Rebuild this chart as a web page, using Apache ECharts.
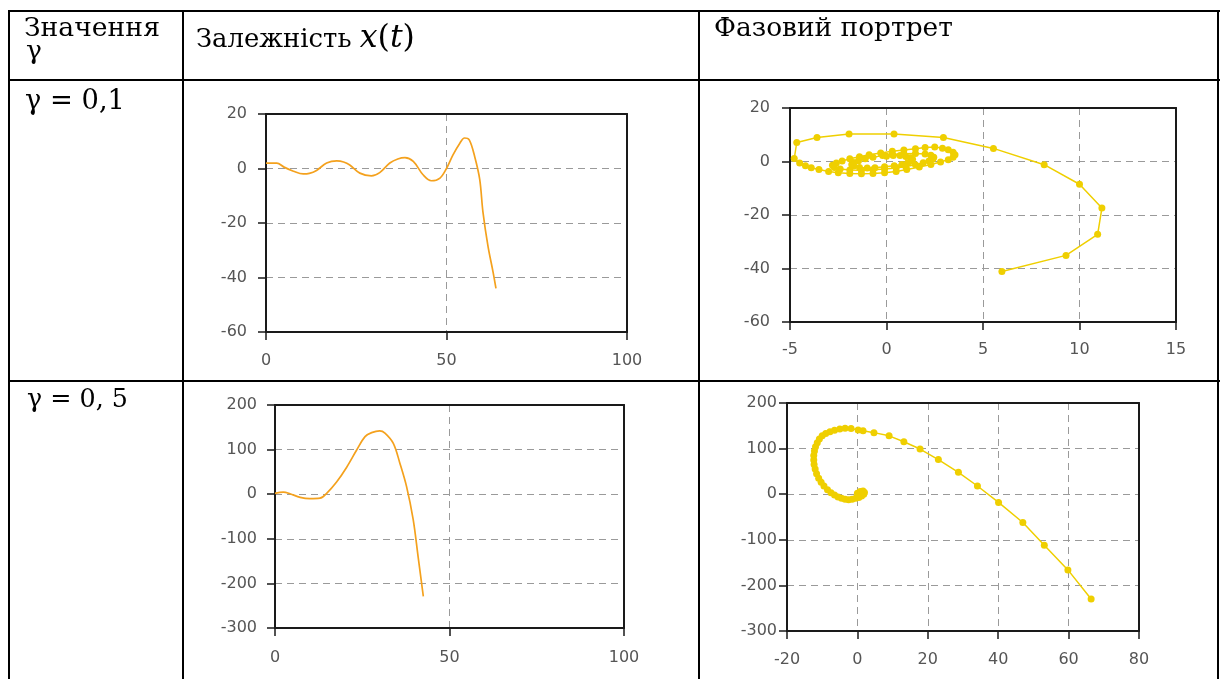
<!DOCTYPE html>
<html>
<head>
<meta charset="utf-8">
<script src="https://cdn.jsdelivr.net/npm/echarts@6/dist/echarts.min.js"></script>
<style>
  html, body { margin:0; padding:0; background:#fff; }
  #wrap { position:relative; width:1221px; height:679px; overflow:hidden; background:#fff; }
  #chart { position:absolute; left:0; top:0; width:1221px; height:679px; }
  .hl { position:absolute; height:2px; background:#000; }
  .vl { position:absolute; width:2px; background:#000; }
  .tx { position:absolute; white-space:nowrap; font-family:"DejaVu Serif", serif; color:#000; line-height:1; }
  .it { font-style:italic; }
  .big { font-size:1.22em; }
</style>
</head>
<body>
<div id="wrap">
  <div id="chart"></div>
</div>
<script>
// ---- Data ----
// gamma = 0.1 : x(t)
const t1 = [0, 3, 5, 7.6, 10.3, 12, 14, 16.8, 19.6, 21.5, 23.2, 26, 29.2, 31.5, 34.3, 36.5, 38.5, 40.8, 43.5, 45.8, 48.2, 50, 51.8, 53.7, 55, 56.3, 57.8, 59.2, 60.1, 61.5, 62.9, 63.7];
const x1 = [2, 2, 0.5, -1, -2, -1.8, -0.7, 2, 2.8, 2.4, 1.3, -1.7, -2.7, -1.5, 2, 3.5, 4, 2.6, -2.3, -4.5, -3.5, 0, 5, 9.3, 11.2, 10.5, 4.4, -4, -16, -28.6, -38, -44];

// gamma = 0.1 : phase portrait
const u2 = [0.0, 0.35, 0.7, 1.0, 1.25, 1.35, 1.3, 1.1, 0.8, 0.4, -0.1, -0.6, -1.0, -1.4, -1.7, -1.8, -1.7, -1.45, -1.1, -0.7, -0.2, 0.3, 0.9, 1.5,
            2.0, 2.3, 2.45, 2.4, 2.2, 1.9, 1.5, 1.0, 0.5, -0.1, -0.7, -1.3, -1.9, -2.4, -2.7, -2.8, -2.6, -2.3, -1.9, -1.4, -0.9, -0.3, 0.3, 0.9, 1.5, 2.0, 2.5,
            2.9, 3.2, 3.45, 3.55, 3.45, 3.2, 2.8, 2.3, 1.7, 1.05, 0.5, -0.1, -0.7, -1.3, -1.9, -2.5, -3.0, -3.5, -3.9, -4.2, -4.5,
            -4.78, -4.65, -3.6, -1.94, 0.39, 2.95, 5.54, 8.17, 10.0, 11.16, 10.94, 9.3, 5.98];
const v2 = [2.0, 2.2, 2.2, 1.9, 1.4, 0.8, 0.1, -0.5, -1.1, -1.6, -2.0, -2.3, -2.4, -2.2, -1.7, -1.1, -0.4, 0.3, 1.0, 1.6, 2.2, 2.6, 2.9, 3.0,
            2.8, 2.3, 1.6, 0.9, 0.2, -0.5, -1.2, -1.9, -2.4, -2.8, -3.1, -3.3, -3.2, -2.8, -2.2, -1.4, -0.6, 0.2, 1.0, 1.8, 2.5, 3.2, 3.8, 4.3, 4.8, 5.2, 5.4,
            5.0, 4.4, 3.5, 2.5, 1.6, 0.7, -0.2, -1.1, -2.1, -3.0, -3.7, -4.2, -4.5, -4.6, -4.5, -4.2, -3.7, -3.0, -2.3, -1.6, -0.6,
            1.1, 7.1, 9.0, 10.3, 10.3, 9.0, 4.9, -1.2, -8.5, -17.4, -27.2, -35.1, -41.1];

// gamma = 0.5 : x(t)
const t3 = [0, 2.4, 4.3, 7.2, 10, 12.9, 14.8, 17.7, 20.5, 23.4, 25.8, 27.7, 30, 31.5, 33.9, 35.8, 37.7, 39.6, 41, 42.5];
const x3 = [2, 4.5, 1, -7, -10, -9, 2, 28, 60, 99, 129, 138, 142, 137, 114, 69, 17, -57, -140, -229];

// gamma = 0.5 : phase portrait
const u4 = [0.0, 0.8, 1.6, 2.0, 1.8, 1.2, 0.4, -0.5, -1.5, -2.5, -3.5, -4.5, -5.5, -6.5, -7.5, -8.5, -9.5, -10.3, -11.0, -11.6, -12.0, -12.3, -12.4, -12.4, -12.2, -11.9, -11.4, -10.8, -10.0, -9.0, -7.8, -6.5, -5.0, -3.5, -1.8, 0.2, 1.6, 4.7, 9.0, 13.2, 17.8, 23.0, 28.7, 34.1, 40.1, 47.0, 53.1, 59.8, 66.4];
const v4 = [2, 6, 7, 4, 0, -4, -7, -9, -11, -12, -11, -9, -6, -2, 3, 10, 18, 26, 35, 45, 55, 65, 75, 85, 95, 104, 113, 121, 128, 133, 137, 140, 143, 144.5, 144, 141, 139, 135, 128, 115, 99, 76, 48, 18, -18, -62, -112, -166, -230];

// tick settings [min, max, interval]
const ax1x = [0, 100, 50],  ax1y = [-60, 20, 20];
const ax2x = [-5, 15, 5],   ax2y = [-60, 20, 20];
const ax3x = [0, 100, 50],  ax3y = [-300, 200, 100];
const ax4x = [-20, 80, 20], ax4y = [-300, 200, 100];

// table texts
const headGamma = 'Значення';
const headGammaSym = 'γ';
const headX = 'Залежність';
const headPhase = 'Фазовий портрет';
const rowLabel1 = 'γ = 0,1';
const rowLabel2 = 'γ = 0, 5';

// ---- Table lines and texts ----
const wrap = document.getElementById('wrap');
function line(cls, l, t, len) {
  const d = document.createElement('div');
  d.className = cls;
  d.style.left = l + 'px'; d.style.top = t + 'px';
  if (cls === 'hl') d.style.width = len + 'px'; else d.style.height = len + 'px';
  wrap.appendChild(d);
}
[10, 79, 380].forEach(y => line('hl', 8, y, 1212));
[8, 182, 698, 1217].forEach(x => line('vl', x, 10, 680));

function text(html, left, cy, targetW, fixedSize) {
  const d = document.createElement('div');
  d.className = 'tx';
  d.innerHTML = html;
  d.style.left = left + 'px';
  d.style.top = '0px';
  let fs = fixedSize;
  if (!fs) {
    d.style.fontSize = '100px';
    wrap.appendChild(d);
    const w = d.getBoundingClientRect().width;
    fs = 100 * targetW / w;
  } else {
    wrap.appendChild(d);
  }
  d.style.fontSize = fs + 'px';
  d.style.top = (cy - 0.5 * fs) + 'px';
  return fs;
}
const fsHead = text(headGamma, 24, 27, 136);
text(headGammaSym, 26, 50, 0, fsHead);
text(headX + ' <span class="big"><span class="it">x</span>(<span class="it">t</span>)</span>', 196, 34, 219);
text(headPhase, 714, 27, 239);
text(rowLabel1, 25, 100, 100);
text(rowLabel2, 27, 399, 101);

// ---- Charts ----
const chart = echarts.init(document.getElementById('chart'), null, { renderer: 'canvas' });
const grids = [
  { left: 266, top: 114, width: 361, height: 218 },
  { left: 790, top: 108, width: 386, height: 214 },
  { left: 275, top: 405, width: 349, height: 223 },
  { left: 787, top: 403, width: 352, height: 228 }
].map(g => Object.assign({ show: true, borderWidth: 0, backgroundColor: '#fff', containLabel: false, outerBoundsMode: 'none' }, g));

const frameColor = '#1a1a1a';
function axis(gi, r, margin) {
  return {
    type: 'value', gridIndex: gi, min: r[0], max: r[1], interval: r[2],
    axisLine: { show: true, onZero: false, lineStyle: { color: frameColor, width: 2 } },
    axisTick: { show: true, length: 8, lineStyle: { color: frameColor, width: 1.5 } },
    axisLabel: { color: '#555', fontSize: 16, fontFamily: 'DejaVu Sans', margin: margin },
    splitLine: { show: true, showMinLine: false, showMaxLine: false, lineStyle: { color: '#9a9a9a', width: 1, type: [7, 5] } },
    z: 3
  };
}
function frameAxis(gi, r, pos) {
  return {
    type: 'value', gridIndex: gi, min: r[0], max: r[1], interval: r[2], position: pos,
    axisLine: { show: true, onZero: false, lineStyle: { color: frameColor, width: 2 } },
    axisTick: { show: false }, axisLabel: { show: false }, splitLine: { show: false }, z: 4
  };
}
const zip = (a, b) => a.map((v, i) => [v, b[i]]);
const orange = '#f4a11d', yellow = '#efcf00';

chart.setOption({
  animation: false,
  grid: grids,
  xAxis: [axis(0, ax1x, 21), axis(1, ax2x, 20), axis(2, ax3x, 22), axis(3, ax4x, 21),
          frameAxis(0, ax1x, 'top'), frameAxis(1, ax2x, 'top'), frameAxis(2, ax3x, 'top'), frameAxis(3, ax4x, 'top')],
  yAxis: [axis(0, ax1y, 19), axis(1, ax2y, 20), axis(2, ax3y, 18), axis(3, ax4y, 10),
          frameAxis(0, ax1y, 'right'), frameAxis(1, ax2y, 'right'), frameAxis(2, ax3y, 'right'), frameAxis(3, ax4y, 'right')],
  series: [
    { type: 'line', xAxisIndex: 0, yAxisIndex: 0, data: zip(t1, x1), smooth: 0.35, showSymbol: false, lineStyle: { color: orange, width: 1.7 } },
    { type: 'line', xAxisIndex: 1, yAxisIndex: 1, data: zip(u2, v2), smooth: false, symbol: 'circle', symbolSize: 7, showAllSymbol: true,
      lineStyle: { color: yellow, width: 1.5 }, itemStyle: { color: yellow } },
    { type: 'line', xAxisIndex: 2, yAxisIndex: 2, data: zip(t3, x3), smooth: 0.35, showSymbol: false, lineStyle: { color: orange, width: 1.7 } },
    { type: 'line', xAxisIndex: 3, yAxisIndex: 3, data: zip(u4, v4), smooth: false, symbol: 'circle', symbolSize: 7, showAllSymbol: true,
      lineStyle: { color: yellow, width: 1.5 }, itemStyle: { color: yellow } }
  ]
});
</script>
</body>
</html>
